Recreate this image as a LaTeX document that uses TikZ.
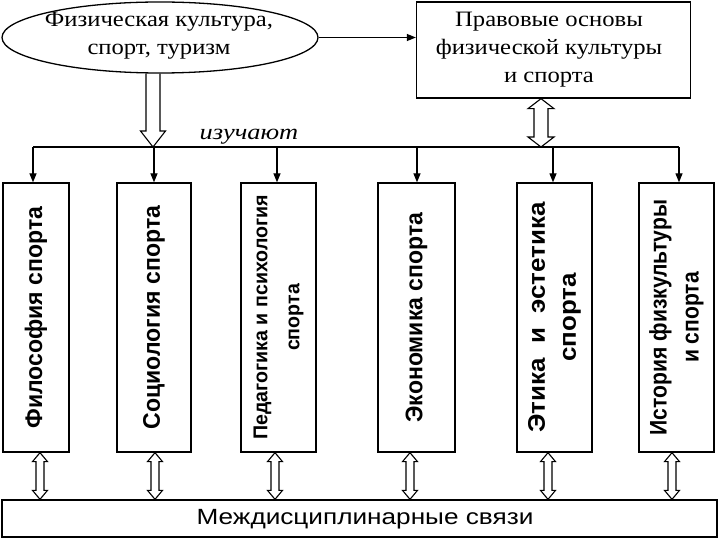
\documentclass[tikz,border=0pt]{standalone}
\usepackage{fontspec}
\setmainfont{Liberation Serif}
\setsansfont{Liberation Sans}
\newfontfamily\wideserif[FakeStretch=1.12]{Liberation Serif}
\newfontfamily\wideital[FakeStretch=1.2]{Liberation Serif}
\newfontfamily\vfA[FakeStretch=0.96]{Liberation Sans}
\newfontfamily\vfB[FakeStretch=0.98]{Liberation Sans}
\newfontfamily\vfC[FakeStretch=1.08]{Liberation Sans}
\newfontfamily\vfD[FakeStretch=0.88]{Liberation Sans}
\newfontfamily\widesans[FakeStretch=1.19]{Liberation Sans}
\usetikzlibrary{shapes.geometric,arrows.meta,calc}
\newcommand\hollowdbl[5]{%
  \draw[hollow] (#1) -- ($(#1)+(#4,#5)$) -- ($(#1)+(#3,#5)$) -- ($(#2)+(#3,-#5)$) -- ($(#2)+(#4,-#5)$) -- (#2)
    -- ($(#2)+(-#4,-#5)$) -- ($(#2)+(-#3,-#5)$) -- ($(#1)+(-#3,#5)$) -- ($(#1)+(-#4,#5)$) -- cycle;}
\begin{document}
\begin{tikzpicture}[x=1pt,y=-1pt,
  every node/.style={inner sep=0pt},
  frame/.style={draw, line width=1.3pt},
  vbox/.style={frame, minimum height=269pt},
  vtext/.style={rotate=90, align=center},
  serif/.style={align=center, font=\wideserif\fontsize{22}{28}\selectfont},
  conn/.style={line width=1.2pt},
  tip/.style={-{Triangle[length=9pt,width=7pt]}},
  hollow/.style={draw, line width=1.1pt, line join=miter}
]
\useasboundingbox (0,0) rectangle (720,540);

% top nodes
\node[frame, ellipse, minimum width=316pt, minimum height=71pt] (ell) at (160,37.5) {};
\node[serif] (ellt) at (159,36) {Физическая культура,\\ спорт, туризм};
\node[frame, minimum width=274pt, minimum height=96pt] (prav) at (553.5,50) {};
\node[serif] (pravt) at (549,50) {Правовые основы\\ физической культуры\\ и спорта};

% six boxes
\node[vbox, minimum width=66pt] (b1) at (36,317.5) {};
\node[vbox, minimum width=74pt] (b2) at (154,317.5) {};
\node[vbox, minimum width=75pt] (b3) at (278.5,317.5) {};
\node[vbox, minimum width=77pt] (b4) at (416.5,317.5) {};
\node[vbox, minimum width=75pt] (b5) at (554.5,317.5) {};
\node[vbox, minimum width=75pt] (b6) at (676.5,317.5) {};
\node[vtext, font=\vfA\bfseries\fontsize{24}{30}\selectfont] (t1) at (b1) {Философия спорта};
\node[vtext, font=\vfA\bfseries\fontsize{24}{30}\selectfont] (t2) at (b2) {Социология спорта};
\node[vtext, font=\vfB\bfseries\fontsize{20}{32}\selectfont] (t3) at (b3) {Педагогика и психология\\ спорта};
\node[vtext, font=\vfA\bfseries\fontsize{24}{30}\selectfont] (t4) at (b4) {Экономика спорта};
\node[vtext, font=\vfC\bfseries\fontsize{24}{31}\selectfont] (t5) at (b5) {Этика \ и \ эстетика\\ спорта};
\node[vtext, font=\vfD\bfseries\fontsize{24}{32}\selectfont] (t6) at (b6) {История физкультуры\\ и спорта};

% bottom box
\node[frame, minimum width=715pt, minimum height=37pt] (mezh) at (359.5,518.5) {};
\node[font=\widesans\fontsize{22}{24}\selectfont] (mezht) at (365,519) {Междисциплинарные связи};

% arrow ellipse -> right box
\draw[conn, tip] (ell.east) -- (ell.east -| prav.west);

% bus line
\coordinate (bus) at (0,147);
\coordinate (busL) at ($(b1.north |- bus)+(-3,0)$);
\coordinate (busR) at ($(b6.north |- bus)+(2.5,0)$);
\draw[conn] (busL) -- (busR);
\node[font=\wideital\itshape\fontsize{22}{24}\selectfont, anchor=base] (izuch) at (249,140) {изучают};

% arrows from bus down to boxes
\foreach \i/\dx in {1/-3, 2/0, 3/-1.5, 4/0.5, 5/-1.5, 6/2.5}{
  \coordinate (d\i) at ($(b\i.north)+(\dx,0)$);
  \draw[conn, tip] (d\i |- bus) -- (d\i);
}

% hollow arrow from ellipse down
\coordinate (hs) at ($(ell.south)+(-7,0)$);
\coordinate (ht) at (hs |- bus);
\draw[hollow] ($(hs)+(-7,0)$) -- ($(ht)+(-7,-16)$) -- ($(ht)+(-12.5,-16)$) -- (ht)
  -- ($(ht)+(12.5,-16)$) -- ($(ht)+(7,-16)$) -- ($(hs)+(7,0)$);

% double hollow arrow between right box and bus
\coordinate (rt) at ($(prav.south)+(-12.5,0)$);
\coordinate (rb) at (rt |- bus);
\hollowdbl{rt}{rb}{7}{13}{10}

% double hollow arrows to bottom box
\foreach \i/\dx in {1/4, 2/1, 3/-3.5, 4/-6.5, 5/-6.5, 6/-4.5}{
  \coordinate (u\i) at ($(b\i.south)+(\dx,0)$);
  \coordinate (l\i) at (u\i |- mezh.north);
  \hollowdbl{u\i}{l\i}{4}{7.5}{9}
}
\end{tikzpicture}
\end{document}
